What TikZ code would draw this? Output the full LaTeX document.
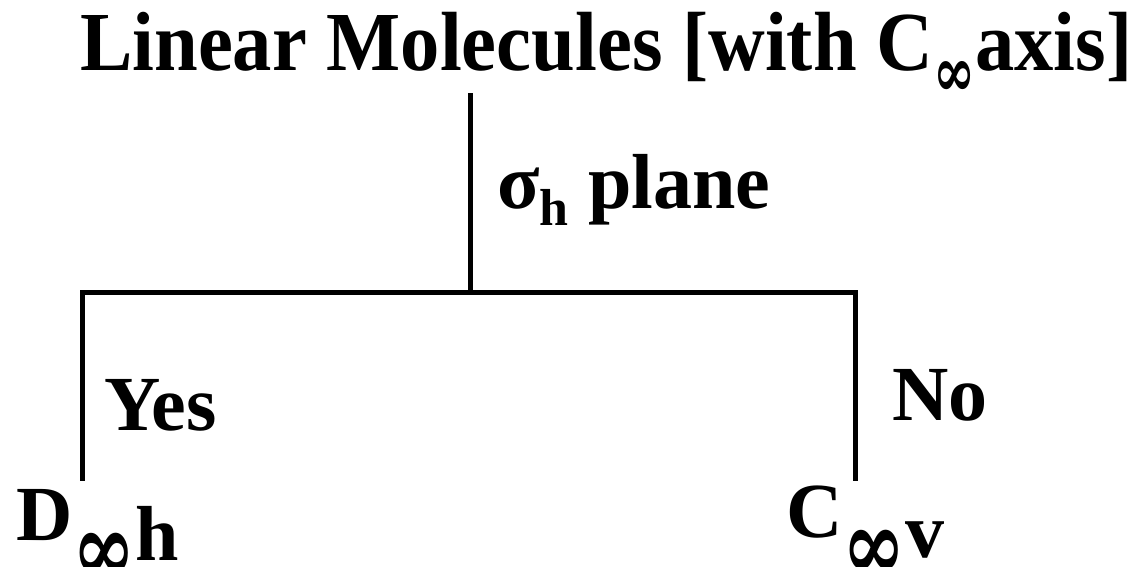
\documentclass[tikz,border=0pt]{standalone}
\usepackage{fontspec}
\setmainfont{Liberation Serif}
\newfontfamily\inffont{DejaVu Serif}
\usetikzlibrary{positioning}

\begin{document}
\begin{tikzpicture}[
      x=1pt, y=-1pt, % one unit is one pixel, y going down
      branch/.style={line width=5pt, black, line cap=rect}, % tree lines
      lbl/.style={anchor=base west, inner sep=0pt,
        font=\bfseries\fontsize{78}{78}\selectfont},
    ]
    \useasboundingbox (0,0) rectangle (1134,566);

    % Infinity sign, lowered like a subscript: #1 = size, #2 = drop
    \newcommand{\lowinf}[2]{\raisebox{-#2}{\scalebox{1}[1.3]{\inffont\bfseries\fontsize{#1}{#1}\selectfont ∞}}}

    % Titel
    \node[lbl] (title) at (80,70)
      {\scalebox{0.935}[1]{\fontsize{84}{84}\selectfont Linear Molecules [with C\lowinf{54pt}{26pt}axis]}};

    % Punkte des Baums
    \coordinate (top) at (470,95);
    \coordinate (mid) at (470,292);
    \coordinate (left) at (82,292);
    \coordinate (right) at (855,292);
    \coordinate (leftend) at (82,478);
    \coordinate (rightend) at (855,478);

    % Linien
    \draw[branch] (top) -- (mid);
    \draw[branch] (left) -- (right);
    \draw[branch] (left) -- (leftend);
    \draw[branch] (right) -- (rightend);

    % Beschriftung
    \node[lbl] (plane) at (497,208) {σ\raisebox{-17pt}{\fontsize{52}{52}\selectfont h} plane};
    \node[lbl] (yes) at (104,430) {Yes};
    \node[lbl] (no) at (892,420) {No};
    \node[lbl] (dinf) at (16,540) {D\lowinf{76pt}{42pt}\raisebox{-20pt}{h}};
    \node[lbl] (cinf) at (786,537) {C\lowinf{76pt}{42pt}\raisebox{-20pt}{v}};
  \end{tikzpicture}
\end{document}
